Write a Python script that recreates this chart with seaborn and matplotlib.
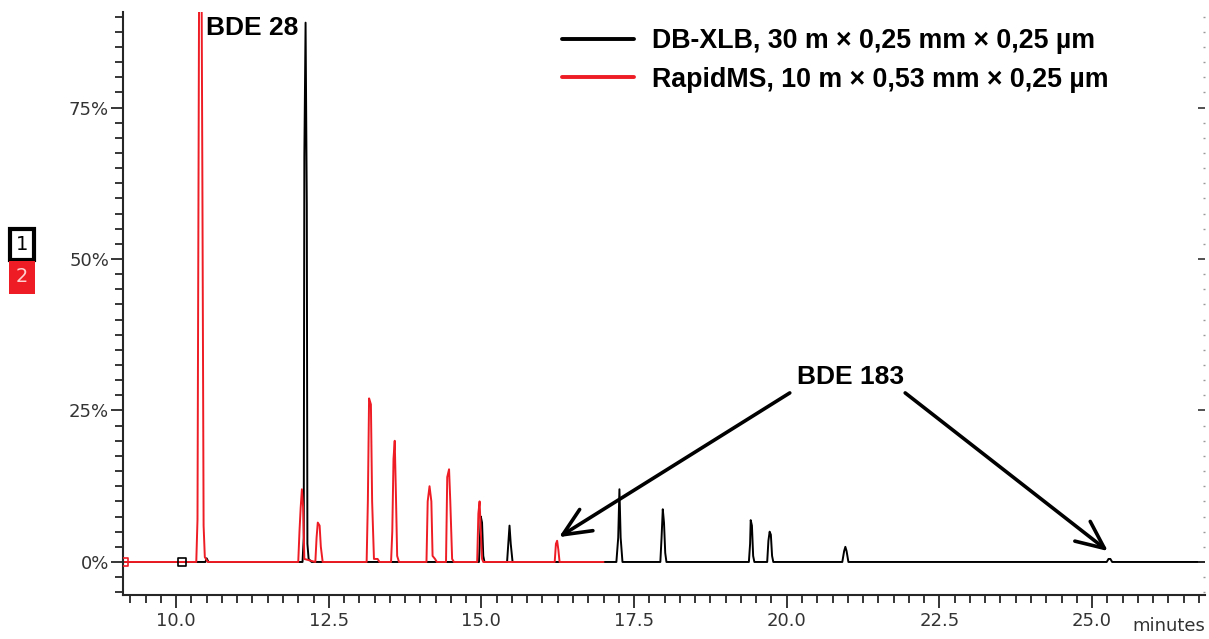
import numpy as np
import pandas as pd
import matplotlib.pyplot as plt
import seaborn as sns
from matplotlib.lines import Line2D
from matplotlib.patches import Rectangle

# ── Data ─────────────────────────────────────────
# DB-XLB, 30 m column (black trace): retention time (min) / intensity (%)
xlb_time = [9.13, 10.48, 10.50, 10.53, 12.07, 12.09, 12.10, 12.12, 12.14, 12.15, 12.17, 12.22,
            14.96, 14.99, 15.01, 15.03, 15.05,
            15.42, 15.44, 15.46, 15.48, 15.51,
            17.21, 17.24, 17.26, 17.28, 17.31,
            17.93, 17.95, 17.97, 17.99, 18.01, 18.03,
            19.38, 19.40, 19.41, 19.43, 19.45, 19.47,
            19.68, 19.70, 19.72, 19.74, 19.76, 19.78,
            20.91, 20.94, 20.96, 20.98, 21.01,
            25.24, 25.27, 25.30, 25.33, 26.85]
xlb_int = [0, 0, 0.6, 0, 0, 4, 67, 89, 59, 3, 0.5, 0,
           0, 7.5, 6.5, 1, 0,
           0, 3, 6, 3, 0,
           0, 4, 12, 4, 0,
           0, 4, 8.7, 6.5, 1.5, 0,
           0, 3, 6.9, 6, 1, 0,
           0, 3.5, 5, 4.5, 1, 0,
           0, 1.8, 2.5, 1.8, 0,
           0, 0.5, 0.5, 0, 0]

# RapidMS, 10 m column (red trace)
rapid_time = [9.13, 10.33, 10.35, 10.37, 10.385, 10.405, 10.43, 10.45, 10.47, 10.52,
              12.00, 12.02, 12.04, 12.06, 12.08, 12.10,
              12.28, 12.30, 12.32, 12.35, 12.37, 12.40,
              13.12, 13.14, 13.16, 13.19, 13.21, 13.24, 13.30, 13.33,
              13.52, 13.54, 13.56, 13.58, 13.60, 13.62, 13.65,
              14.10, 14.12, 14.15, 14.18, 14.20, 14.24, 14.27,
              14.42, 14.44, 14.47, 14.49, 14.52, 14.55,
              14.93, 14.95, 14.97, 14.99, 15.01, 15.03,
              16.20, 16.22, 16.24, 16.26, 16.28, 17.00]
rapid_int = [0, 0, 7, 74, 125, 125, 63, 6, 0.8, 0,
             0, 5, 9, 12, 9, 0.5,
             0, 4, 6.5, 6, 2.5, 0,
             0, 10, 27, 26, 10, 0.5, 0.5, 0,
             0, 5, 17, 20, 11, 1, 0,
             0, 10, 12.5, 10, 1, 0.5, 0,
             0, 14, 15.3, 10, 0.5, 0,
             0, 8, 10, 5, 0.5, 0,
             0, 3, 3.5, 2, 0, 0]

series_names = ["DB-XLB, 30 m \u00d7 0,25 mm \u00d7 0,25 \u00b5m",
                "RapidMS, 10 m \u00d7 0,53 mm \u00d7 0,25 \u00b5m"]
series_colors = ["#000000", "#ee1c24"]

# event markers on the baseline (time, colour)
event_times = [9.15, 10.10]
event_colors = ["#ee1c24", "#000000"]

# BDE 183 arrows: tip positions (time, %)
bde183_tips = [(16.27, 4.1), (25.26, 1.8)]
bde183_tails = [(20.05, 27.9), (21.94, 27.9)]

y_ticks = [0, 25, 50, 75]
x_ticks = [10.0, 12.5, 15.0, 17.5, 20.0, 22.5, 25.0]

df = pd.concat([
    pd.DataFrame({"time": xlb_time, "intensity": xlb_int, "column": series_names[0]}),
    pd.DataFrame({"time": rapid_time, "intensity": rapid_int, "column": series_names[1]}),
])

# ── Plot ─────────────────────────────────────
sns.set_style("ticks")
plt.rcParams['font.family'] = ['DejaVu Sans']
plt.rcParams['text.color'] = 'black'

fig = plt.figure(figsize=(12.09, 6.39), dpi=100)
ax = fig.add_axes([123/1209, 44/639, (1205-123)/1209, (627-44)/639])

sns.lineplot(data=df, x="time", y="intensity", hue="column",
             palette=dict(zip(series_names, series_colors)),
             estimator=None, sort=False, lw=1.4, legend=False, ax=ax)

ax.scatter(event_times, [0, 0], marker="s", s=30, facecolors="none",
           edgecolors=event_colors, linewidths=1.2, zorder=5)

ax.set_xlim(9.13, 26.85)
ax.set_ylim(-5.45, 90.76)
ax.set_xlabel("")
ax.set_ylabel("")

ax.set_yticks(y_ticks)
ax.set_yticklabels([f"{v}%" for v in y_ticks])
ax.set_yticks(np.arange(-5, 90.1, 2.5), minor=True)
ax.set_xticks(x_ticks)
ax.set_xticklabels([f"{v:.1f}" for v in x_ticks])
ax.set_xticks(np.arange(9.25, 26.9, 0.25), minor=True)

ax.tick_params(axis="both", which="major", length=9, width=1.3, labelsize=13,
               labelcolor="#333333", pad=1)
ax.tick_params(axis="both", which="minor", length=5.5, width=1.3)
ax.tick_params(axis="x", which="major", pad=3)
for s in ["top", "right"]:
    ax.spines[s].set_visible(False)
for s in ["left", "bottom"]:
    ax.spines[s].set_linewidth(1.5)

# right hand ticks (pointing inwards)
ax2 = ax.twinx()
ax2.set_ylim(ax.get_ylim())
ax2.set_yticks(y_ticks)
ax2.set_yticks(np.arange(-5, 90.1, 2.5), minor=True)
ax2.tick_params(axis="y", which="major", direction="in", length=5, width=1.2,
                labelright=False, color="#333333")
ax2.tick_params(axis="y", which="minor", direction="in", length=1.5, width=1,
                color="#999999")
for s in ["top", "right", "left", "bottom"]:
    ax2.spines[s].set_visible(False)

# legend
handles = [Line2D([], [], color=c, lw=2.8) for c in series_colors]
ax.legend(handles, series_names, loc="upper left",
          bbox_to_anchor=(562/1209, (639-28)/639), bbox_transform=fig.transFigure,
          frameon=False, borderaxespad=0, borderpad=0,
          handlelength=2.7, handletextpad=0.65, labelspacing=0.47,
          prop={"family": "Liberation Sans", "weight": "bold", "size": 19.3})

# peak labels
ax.text(10.49, 87.0, "BDE 28", fontsize=19, fontweight="bold",
        family="Liberation Sans", va="baseline", ha="left")
ax.text(21.05, 30.5, "BDE 183", fontsize=19, fontweight="bold",
        family="Liberation Sans", va="center", ha="center")
for tip, tail in zip(bde183_tips, bde183_tails):
    ax.annotate("", xy=tip, xytext=tail,
                arrowprops=dict(arrowstyle="->, head_length=2.0, head_width=0.9",
                                lw=2.6, color="black", shrinkA=0, shrinkB=0))

fig.text(1205/1209, 4/639, "minutes", fontsize=13, color="#333333",
         ha="right", va="bottom")

# trace index boxes
fig.add_artist(Rectangle((10/1209, (639-260)/639), 24/1209, 31/639,
                         transform=fig.transFigure, facecolor="white",
                         edgecolor="black", lw=3))
fig.text(22/1209, (639-244)/639, "1", fontsize=14, color="black",
         ha="center", va="center")
fig.add_artist(Rectangle((9/1209, (639-294)/639), 26/1209, 33/639,
                         transform=fig.transFigure, facecolor="#ee1c24",
                         edgecolor="none"))
fig.text(22/1209, (639-277)/639, "2", fontsize=14, color="#ffd0d0",
         ha="center", va="center")

plt.savefig("out.png", dpi=100)
